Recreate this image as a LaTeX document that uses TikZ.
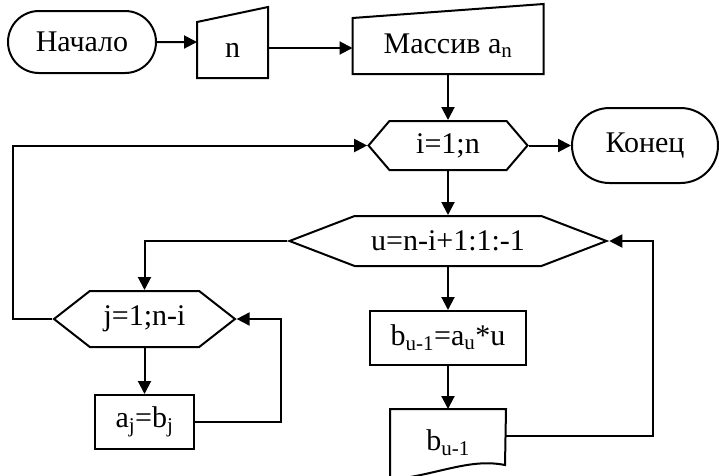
\documentclass[tikz,border=0pt]{standalone}
\usepackage{fontspec}
\setmainfont{Liberation Serif}
\usetikzlibrary{shapes.misc, shapes.symbols, arrows.meta, positioning}

\begin{document}
\begin{tikzpicture}[x=1pt, y=-1pt, line width=2pt,
    every node/.style={font=\fontsize{30pt}{34pt}\selectfont, inner sep=0pt},
    term/.style={draw, rounded rectangle, minimum width=148pt, minimum height=62pt},
    proc/.style={draw, minimum height=54pt},
    loopbox/.style={draw, signal, signal to=east and west},
    arr/.style={-{Triangle[length=13pt, width=13pt]}}]
    \useasboundingbox (0,0) rectangle (719,475);

    % --- Ввод данных ---
    \node[term] (start) at (82,42) {Начало};

    % ручной ввод n (верх скошен)
    \node[minimum width=69pt, minimum height=54pt] (n) at (232.5,50) {n};
    \draw (n.south west) -- (n.north west) -- ([yshift=15pt]n.north east) -- (n.south east) -- cycle;

    % массив a_n
    \node[minimum width=189pt, minimum height=54pt] (mas) at (448,46) {Массив a\textsubscript{n}};
    \draw (mas.south west) -- (mas.north west) -- ([yshift=14pt]mas.north east) -- (mas.south east) -- cycle;

    \draw[arr] (start) -- (start -| n.west);
    \draw[arr] ([yshift=2pt]n.east) -- ([yshift=2pt]n.east -| mas.west);

    % --- Внешний цикл ---
    \node[loopbox, minimum width=159pt, minimum height=49pt, signal pointer angle=99] (iloop) at (448,145.5) {i=1;n};
    \node[term, minimum width=146pt, minimum height=75pt] (end) at (645,145.5) {Конец};

    \draw[arr] (mas.south) -- (iloop.north);
    \draw[arr] (iloop.east) -- (end.west);

    % --- Цикл по u ---
    \node[loopbox, minimum width=317pt, minimum height=50pt, signal pointer angle=42] (uloop) at (448,241) {u=n-i+1:1:-1};
    \node[proc, minimum width=156pt] (calc) at (448,338) {b\textsubscript{u-1}=a\textsubscript{u}*u};

    % вывод b_{u-1} (документ)
    \node[minimum width=114pt, minimum height=66pt] (out) at (448,443) {b\textsubscript{u-1}};
    \draw (out.south west) -- (out.north west) -- (out.north east) -- (505,465)
        .. controls (470,458) and (440,474) .. (391,480) -- cycle;

    \draw[arr] (iloop.south) -- (uloop.north);
    \draw[arr] (uloop.south) -- (calc.north);
    \draw[arr] (calc.south) -- (out.north);
    \draw[arr] ([yshift=7pt]out.east) -- ++(147,0) |- (uloop.east);

    % --- Цикл по j ---
    \node[loopbox, minimum width=181pt, minimum height=56pt, signal pointer angle=76] (jloop) at (144.5,319) {j=1;n-i};
    \node[proc, minimum width=99pt] (copy) at (144.5,422) {a\textsubscript{j}=b\textsubscript{j}};

    \draw[arr] (uloop.west) -| (jloop.north);
    \draw[arr] (jloop.south) -- (copy.north);
    \draw[arr] (copy.east) -- ++(86,0) |- (jloop.east);
    \draw[arr] (jloop.west) -- ++(-39,0) |- (iloop.west);
\end{tikzpicture}
\end{document}
